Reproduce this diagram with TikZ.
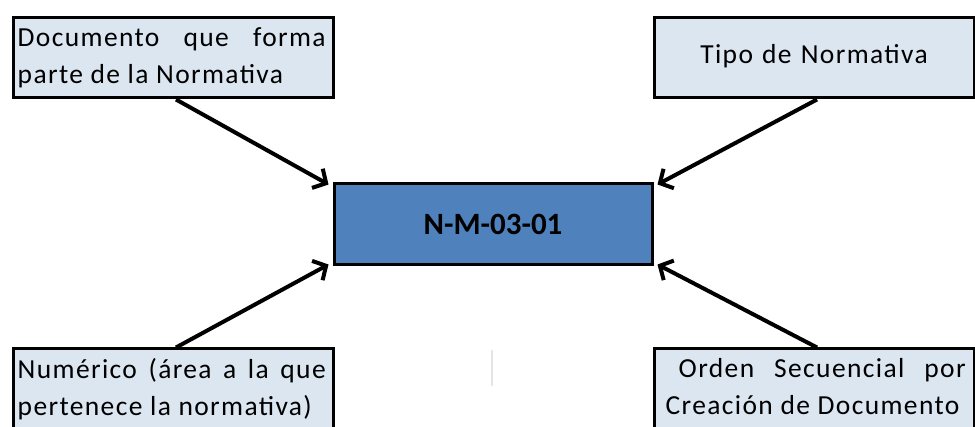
\documentclass[tikz,border=0pt]{standalone}
\usepackage{fontspec}
\setmainfont{Carlito}
\newfontfamily\labelfont[LetterSpace=5]{Carlito}
\usetikzlibrary{arrows.meta}
\definecolor{boxfill}{HTML}{DCE6F1}
\definecolor{codefill}{HTML}{4F81BD}
\tikzset{
  labelbox/.style={draw=black, line width=3pt, fill=boxfill, minimum width=320pt, minimum height=80pt, inner sep=0pt},
  labeltext/.style={text width=308pt, align=justify, inner sep=0pt, font=\labelfont\fontsize{27.5}{37}\selectfont},
  codebox/.style={draw=black, line width=3pt, fill=codefill, minimum width=318pt, minimum height=81pt, font=\bfseries\fontsize{31}{34}\selectfont},
  pointer/.style={line width=4pt, -{Straight Barb[length=10pt, width=22pt, line width=4pt]}}
}
\begin{document}
\begin{tikzpicture}[x=1pt, y=-1pt]
  \useasboundingbox (0,0) rectangle (975,427);
  \begin{scope}
    \clip (0,0) rectangle (975,427);
    % upper labels
    \node[labelbox, anchor=north west] (tl) at (11.5,16.5) {};
    \node[labeltext, anchor=north west] (tltext) at ([xshift=6pt,yshift=-11pt]tl.north west) {Documento que forma\linebreak parte de la Normativa};
    \node[labelbox, anchor=north west] (tr) at (652.5,16.5) {};
    \node[labeltext, align=center] (trtext) at ([yshift=2pt]tr.center) {Tipo de Normativa};
    % central code
    \node[codebox, anchor=north west] (c) at (332.5,182.5) {N-M-03-01};
    % lower labels, cut off by the page edge
    \node[labelbox, anchor=north west, minimum height=100pt] (bl) at (11.5,347.5) {};
    \node[labeltext, anchor=north west] (bltext) at ([xshift=6pt,yshift=-11pt]bl.north west) {Numérico (área a la que\linebreak pertenece la normativa)};
    \node[labelbox, anchor=north west, minimum height=100pt] (br) at (652.5,347.5) {};
    \node[labeltext, anchor=north west, text width=300pt] (brtext) at ([xshift=13pt,yshift=-11pt]br.north west) {\hspace*{13pt}Orden Secuencial por\linebreak Creación de Documento};
    % faint vertical mark
    \draw[black!10, line width=1.5pt] (492,350) -- (492,386);
  \end{scope}
  % pointers to the corners of the code
  \draw[pointer] ([xshift=3pt]tl.south) -- ([xshift=-4pt,yshift=-2pt]c.north west);
  \draw[pointer] ([xshift=3pt]tr.south) -- ([xshift=4pt,yshift=-2pt]c.north east);
  \draw[pointer] ([xshift=3pt]bl.north) -- ([xshift=-4pt,yshift=2pt]c.south west);
  \draw[pointer] ([xshift=3pt]br.north) -- ([xshift=4pt,yshift=2pt]c.south east);
\end{tikzpicture}
\end{document}
